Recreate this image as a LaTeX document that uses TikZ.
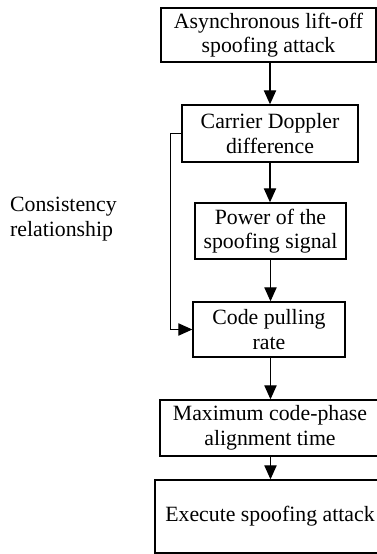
\documentclass[tikz,border=0pt]{standalone}
\usepackage{fontspec}
\setmainfont{Liberation Serif}
\usetikzlibrary{arrows.meta}
\begin{document}
\begin{tikzpicture}[
  font=\fontsize{12.4}{14}\selectfont,
  line width=0.75pt,
  stepbox/.style={draw, align=center, inner sep=0pt},
  flow/.style={-{Triangle[length=8pt,width=7pt]}}
]
\useasboundingbox (0,0) rectangle (7.54,11.08);

% Bloky
\node[stepbox, minimum width=4.30cm, minimum height=1.08cm] (attack) at (5.37,10.38) {Asynchronous lift-off\\spoofing attack};
\node[stepbox, minimum width=3.52cm, minimum height=1.14cm] (doppler) at (5.40,8.41) {Carrier Doppler\\difference};
\node[stepbox, minimum width=3.02cm, minimum height=1.12cm] (power) at (5.41,6.46) {Power of the\\spoofing signal};
\node[stepbox, minimum width=3.04cm, minimum height=1.10cm] (pulling) at (5.38,4.49) {Code pulling\\rate};
\node[stepbox, minimum width=4.40cm, minimum height=1.12cm] (align) at (5.40,2.52) {Maximum code-phase\\alignment time};
\node[stepbox, minimum width=4.60cm, minimum height=1.46cm] (execute) at (5.40,0.75) {Execute spoofing attack};

% Popisek vlevo
\node[anchor=west, align=left, inner sep=0pt] (consist) at (0.19,6.70) {Consistency\\relationship};

% Šipky
\draw[flow] (attack.south -| doppler.north) -- (doppler.north);
\draw[flow] (doppler.south) -- (power.north -| doppler.south);
\draw[flow] (power.south) -- (pulling.north -| power.south);
\draw[flow] (pulling.south -| power.south) -- (align.north -| power.south);
\draw[flow] (align.south -| power.south) -- (execute.north -| power.south);

% Zpětná vazba
\draw[flow] (doppler.west) -- ++(-0.22,0) |- (pulling.west);
\end{tikzpicture}
\end{document}
